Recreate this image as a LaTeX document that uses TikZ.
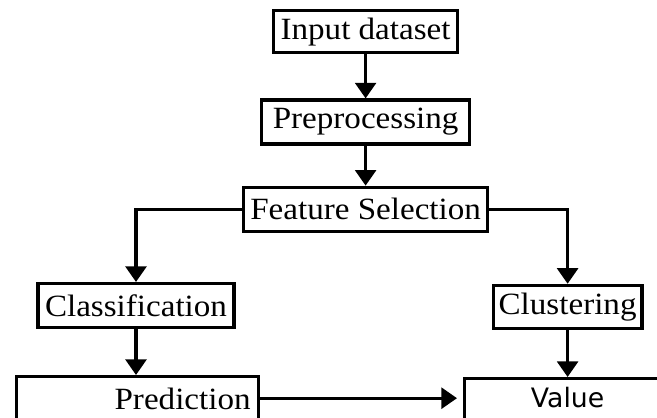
\documentclass[tikz,border=0pt]{standalone}
\usepackage{fontspec}
\setmainfont{Liberation Serif}[FakeStretch=1.07]
\newfontfamily\valuefont{DejaVu Sans}
\usepackage{xcolor}
\usepackage{tikz}
\usetikzlibrary{arrows.meta, positioning}

\begin{document}
\begin{tikzpicture}[
    node distance=1.1cm,
    box/.style={rectangle, draw=black, line width=2.3pt, align=center, font=\fontsize{22}{26}\selectfont, inner sep=0pt},
    openbox/.style={box, anchor=north west, inner ysep=0pt},
    arrow/.style={-{Triangle[width=5.2mm, length=3.9mm]}, line width=2.3pt}
]
\clip[use as bounding box] (0,0) rectangle (16.425,10.45);

\node[box, minimum width=4.6cm, minimum height=1.06cm] (input) at (9.14,9.66) {Input dataset};
\node[box, minimum width=5.2cm, minimum height=1.1cm, below=1.1cm of input] (prep) {Preprocessing};
\node[box, minimum width=6.1cm, minimum height=1.1cm, below=1.0cm of prep] (feat) {Feature Selection};

\node[box, minimum width=4.9cm, minimum height=1.1cm] (class) at (3.4,2.81) {Classification};
\node[box, minimum width=3.72cm, minimum height=1.08cm] (clust) at (14.19,2.775) {Clustering};

% boxes cut off by the lower edge
\node[openbox, inner xsep=0.2cm, text width=5.65cm, align=right, text height=0.82cm, text depth=1.5cm] (pred) at (0.375,1.075) {Prediction};
\node[openbox, inner xsep=0pt, text width=5.15cm, align=center, text height=0.72cm, text depth=1.5cm, font=\valuefont\fontsize{19}{23}\selectfont] (value) at (11.575,1.025) {Value};

\draw[arrow] (input) -- (prep);
\draw[arrow] (prep) -- (feat);
\draw[arrow] (feat.west) -| (class.north);
\draw[arrow] (feat.east) -| (clust.north);

\draw[arrow] (class) -- (class |- pred.north);
\draw[arrow] (clust) -- (clust |- value.north);

\coordinate (pv) at ([yshift=2mm]pred.mid east);
\draw[arrow, shorten >=1.5mm] (pv) -- (pv -| value.west);

\end{tikzpicture}
\end{document}
